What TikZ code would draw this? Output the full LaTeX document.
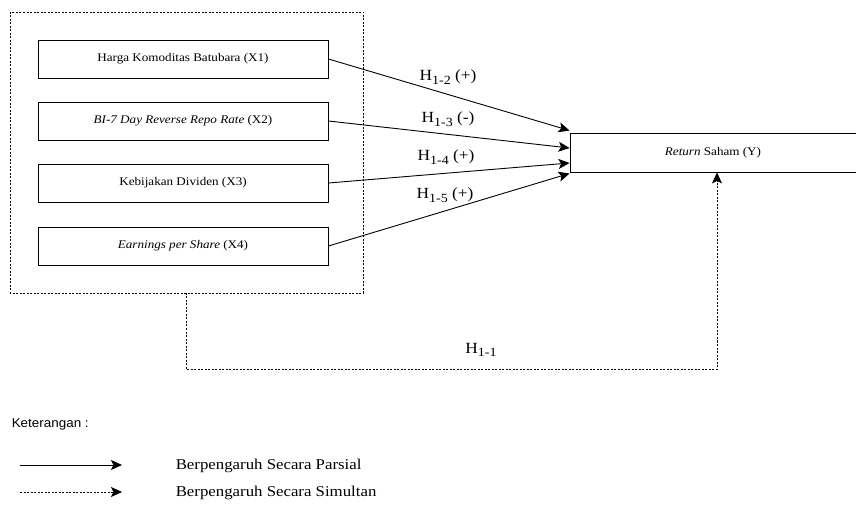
\documentclass[tikz,border=0pt]{standalone}
\usepackage{fontspec}
\setmainfont[FakeStretch=1.12]{Liberation Serif}
\setsansfont[FakeStretch=1.05]{Liberation Sans}
\usetikzlibrary{arrows.meta}
\newcommand{\hsub}[1]{\raisebox{-3.5pt}{\fontsize{12.5}{13}\selectfont #1}}

\begin{document}
\begin{tikzpicture}[x=1pt, y=-1pt, line width=0.9pt,
	var/.style={draw, minimum width=290pt, minimum height=38pt, inner sep=0pt, font=\fontsize{11.7}{13}\selectfont},
	hyp/.style={font=\fontsize{15.5}{17}\selectfont},
	tip/.style={-{Stealth[length=11pt, width=10pt, inset=2.5pt]}},
	sim/.style={dash pattern=on 2pt off 1.5pt}]
	\useasboundingbox (0,0) rectangle (856,510);

	% variabel independen
	\draw[sim, line width=0.6pt] (10,12) rectangle (363,293);
	\draw (183,59)  node[var] (x1) {Harga Komoditas Batubara (X1)};
	\draw (183,121) node[var] (x2) {\textit{BI-7 Day Reverse Repo Rate} (X2)};
	\draw (183,183) node[var] (x3) {Kebijakan Dividen (X3)};
	\draw (183,246) node[var] (x4) {\textit{Earnings per Share} (X4)};

	% variabel dependen
	\draw (716,152.5) node[var, minimum width=292pt, minimum height=39pt] (y) {\hspace*{-6pt}\textit{Return} Saham (Y)};

	% pengaruh parsial
	\draw[tip] (x1.east) -- ([yshift=2pt]y.north west);
	\draw[tip] (x2.east) -- ([yshift=4.5pt]y.west);
	\draw[tip] (x3.east) -- ([yshift=-10.5pt]y.west);
	\draw[tip] (x4.east) -- ([yshift=-1pt]y.south west);
	\draw (448,77)  node[hyp] (h2) {H\hsub{1-2} (+)};
	\draw (448,119) node[hyp] (h3) {H\hsub{1-3} (-)};
	\draw (446,157) node[hyp] (h4) {H\hsub{1-4} (+)};
	\draw (445,195) node[hyp] (h5) {H\hsub{1-5} (+)};

	% pengaruh simultan
	\coordinate (s0) at (186,293);
	\draw[tip, sim, line width=0.6pt] (s0) -- (186,369) -- (717,369) -- ([xshift=1pt]y.south);
	\draw (481,350) node[hyp] (h1) {H\hsub{1-1}};

	% keterangan
	\draw (8,424) node[anchor=west, font=\sffamily\fontsize{12.8}{15}\selectfont] (ket) {Keterangan :};
	\coordinate (p0) at (20,465);
	\coordinate (p1) at (122,465);
	\coordinate (q0) at (20,492);
	\coordinate (q1) at (122,492);
	\draw[tip] (p0) -- (p1);
	\draw[tip, sim, line width=0.6pt] (q0) -- (q1);
	\draw (172,466) node[anchor=west, font=\fontsize{15}{16}\selectfont] (lp) {Berpengaruh Secara Parsial};
	\draw (172,493) node[anchor=west, font=\fontsize{15}{16}\selectfont] (ls) {Berpengaruh Secara Simultan};
\end{tikzpicture}
\end{document}
